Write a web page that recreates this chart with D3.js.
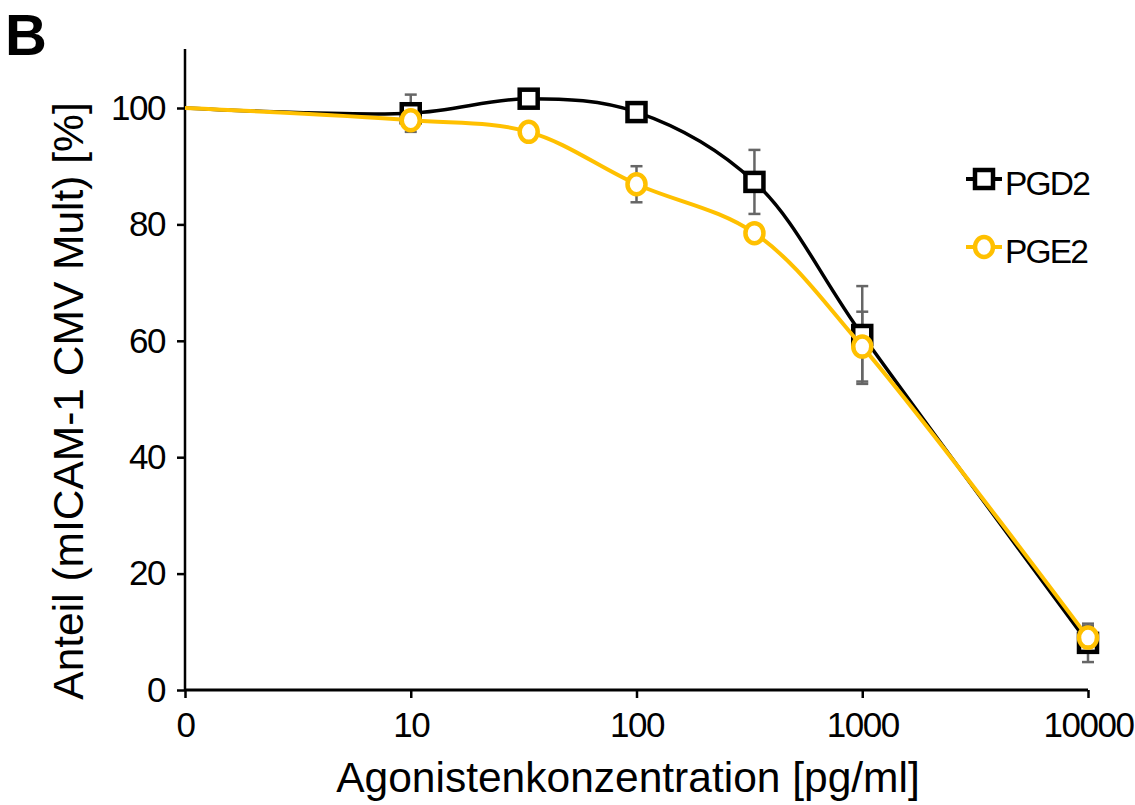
<!DOCTYPE html>
<html>
<head>
<meta charset="utf-8">
<script src="https://cdn.jsdelivr.net/npm/d3@7"></script>
<style>
body { margin: 0; background: #fff; }
text { font-family: "Liberation Sans", Arial, sans-serif; }
</style>
</head>
<body>
<div id="chart"></div>
<script>
// concentrations (0 is drawn one decade below 10)
const conc = [1, 10, 33.3, 100, 333, 1000, 10000];
const xTicks = [1, 10, 100, 1000, 10000];
const xTickLabels = ["0", "10", "100", "1000", "10000"];
const yTicks = [0, 20, 40, 60, 80, 100];

const pgd2 = [100, 99.1, 101.6, 99.3, 87.3, 61, 8.1];
const pgd2Err = [0, 3.2, 0, 0, 5.5, 8.4, 3.3];
const pge2 = [100, 97.9, 95.9, 86.9, 78.5, 59, 9];
const pge2Err = [0, 0, 0, 3.1, 0, 6, 2];

const series = [
  {name: "PGD2", vals: pgd2, err: pgd2Err, color: "#000", shape: "square"},
  {name: "PGE2", vals: pge2, err: pge2Err, color: "#ffc000", shape: "circle"}
];

const width = 1135, height = 805;
const svg = d3.select("#chart").append("svg")
  .attr("width", width).attr("height", height);

const x = d3.scaleLog().domain([1, 10000]).range([185, 1088]);
const y = d3.scaleLinear().domain([0, 100]).range([690, 108]);

// axes
const xAxis = svg.append("g").attr("transform", "translate(0,690)")
  .call(d3.axisBottom(x).tickValues(xTicks).tickFormat((d, i) => xTickLabels[i]).tickSize(8));
xAxis.select(".domain").attr("d", "M185,0H1088").attr("stroke-width", 3);
const yAxis = svg.append("g").attr("transform", "translate(185,0)")
  .call(d3.axisLeft(y).tickValues(yTicks).tickSize(8).tickPadding(12));
yAxis.select(".domain").attr("d", "M0,49V690").attr("stroke-width", 2.5);
svg.selectAll(".tick line").attr("stroke-width", 2.5);
svg.selectAll(".tick text").attr("font-size", 35).attr("fill", "#000")
  .attr("letter-spacing", -1.5)
  .attr("font-family", "Liberation Sans, Arial, sans-serif");
xAxis.selectAll(".tick text").attr("y", 47).attr("dy", 0);

// titles
svg.append("text").attr("x", 628).attr("y", 792).attr("text-anchor", "middle")
  .attr("font-size", 42.5).text("Agonistenkonzentration [pg/ml]");
svg.append("text").attr("transform", "translate(83,401) rotate(-90)")
  .attr("text-anchor", "middle").attr("font-size", 42.5).text("Anteil (mICAM-1 CMV Mult) [%]");
svg.append("text").attr("x", 5).attr("y", 55).attr("font-size", 58)
  .attr("font-weight", "bold").text("B");

const line = d3.line().x(d => x(d[0])).y(d => y(d[1])).curve(d3.curveCatmullRom.alpha(0.5));

// error bars
series.forEach(s => {
  const g = svg.append("g");
  conc.forEach((c, i) => {
    if (!s.err[i]) return;
    const cx = x(c), y0 = y(s.vals[i] - s.err[i]), y1 = y(s.vals[i] + s.err[i]);
    g.append("line").attr("x1", cx).attr("x2", cx).attr("y1", y0).attr("y2", y1)
      .attr("stroke", "#666").attr("stroke-width", 2.5);
    [y0, y1].forEach(yy => g.append("line").attr("x1", cx - 6).attr("x2", cx + 6)
      .attr("y1", yy).attr("y2", yy).attr("stroke", "#666").attr("stroke-width", 2.5));
  });
});

function drawMarker(g, shape, cx, cy, color) {
  if (shape === "square") {
    g.append("rect").attr("x", cx - 9).attr("y", cy - 9).attr("width", 18).attr("height", 18)
      .attr("fill", "#fff").attr("stroke", color).attr("stroke-width", 4.5);
  } else {
    g.append("ellipse").attr("cx", cx).attr("cy", cy).attr("rx", 9).attr("ry", 10)
      .attr("fill", "#fff").attr("stroke", color).attr("stroke-width", 4.5);
  }
}

series.forEach(s => {
  const pts = conc.map((c, i) => [c, s.vals[i]]);
  svg.append("path").datum(pts).attr("d", line).attr("fill", "none")
    .attr("stroke", s.color).attr("stroke-width", s.shape === "circle" ? 4 : 3.5);
  const g = svg.append("g");
  pts.slice(1).forEach(p => drawMarker(g, s.shape, x(p[0]), y(p[1]), s.color));
});

// legend
series.forEach((s, i) => {
  const ly = 179 + i * 68;
  svg.append("line").attr("x1", 966).attr("x2", 1002).attr("y1", ly).attr("y2", ly)
    .attr("stroke", s.color).attr("stroke-width", 4);
  drawMarker(svg, s.shape, 984, ly, s.color);
  svg.append("text").attr("x", 1005).attr("y", ly + 16).attr("font-size", 33.5)
    .attr("letter-spacing", -1.8).text(s.name);
});
</script>
</body>
</html>
